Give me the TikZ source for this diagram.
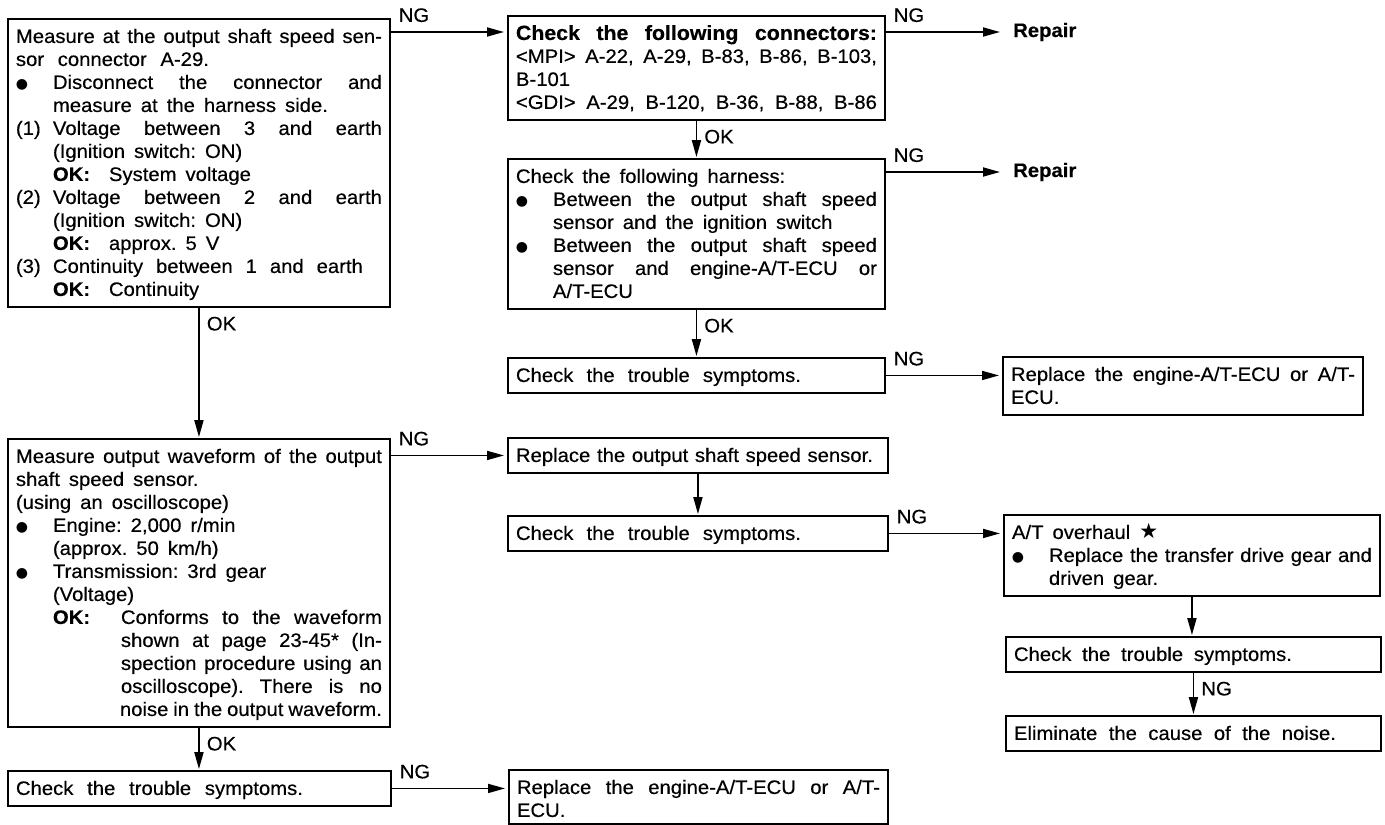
\documentclass[tikz,border=0pt]{standalone}
\usepackage{fontspec}
\setmainfont{Liberation Sans}[FakeStretch=1.04,FakeBold=0.4]
\newfontfamily\djv{DejaVu Sans}
\usetikzlibrary{arrows.meta,calc}
\newcommand\fs{\fontsize{19.5}{23}\selectfont\frenchspacing}
\newcommand\sps{\spaceskip=9pt plus 6pt minus 5pt\xspaceskip=9pt plus 6pt minus 5pt\relax}
\newcommand\J[2][0pt]{\hspace*{#1}\makebox[\dimexpr\hsize-#1\relax][s]{\sps #2}}
\newcommand\Jw[3][0pt]{\hspace*{#1}\makebox[#2][s]{\sps #3}}
\newcommand\R[2][0pt]{\hspace*{#1}{\sps #2}}
\newcommand\bu{\makebox[37pt][l]{{\djv\fontsize{14}{23}\selectfont ●}}}
\newcommand\nb[1]{\makebox[37pt][l]{#1}}
\newcommand\okk{\makebox[56pt][l]{\textbf{OK:}}}
\begin{document}
\begin{tikzpicture}[x=1pt,y=-1pt,
  bx/.style={draw, line width=1.9pt, anchor=north west, inner xsep=8pt, inner ysep=0pt, text height=24pt, align=left, font=\fs},
  arr/.style={line width=1.8pt, -{Triangle[length=17pt,width=9pt]}},
  harr/.style={arr, shorten >=3pt},
  varr/.style={arr, shorten >=0.9pt},
  nglab/.style={pos=0, anchor=south west, xshift=7pt, yshift=9pt, inner sep=0pt, font=\fs},
  oklab/.style={pos=0, anchor=north west, xshift=7pt, yshift=-8pt, inner sep=0pt, font=\fs},
  rep/.style={anchor=base west, inner xsep=10pt, inner ysep=0pt, font=\fs\bfseries}]
\fill[white] (0,0) rectangle (1385,825);
\useasboundingbox (0,0) rectangle (1385,825);

% left column
\node[bx, text width=366pt, text depth=264pt] (A) at (7,18) {%
\J{Measure at the output shaft speed sen-}\\
\Jw{193pt}{sor connector A-29.}\\
\J{\bu Disconnect the connector and}\\
\R[37pt]{measure at the harness side.}\\
\J{\nb{(1)}Voltage between 3 and earth}\\
\R[37pt]{(Ignition switch: ON)}\\
\R[37pt]{\okk System voltage}\\
\J{\nb{(2)}Voltage between 2 and earth}\\
\R[37pt]{(Ignition switch: ON)}\\
\R[37pt]{\okk approx. 5 V}\\
\Jw{347pt}{\nb{(3)}Continuity between 1 and earth}\\
\R[37pt]{\okk Continuity}};

\node[bx, text width=366pt, text depth=264pt] (F) at (7,438) {%
\J{Measure output waveform of the output}\\
\R{shaft speed sensor.}\\
\R{(using an oscilloscope)}\\
\R{\bu Engine: 2,000 r/min}\\
\R[37pt]{(approx. 50 km/h)}\\
\R{\bu Transmission: 3rd gear}\\
\R[37pt]{(Voltage)}\\
\J[37pt]{\makebox[68pt][l]{\textbf{OK:}}Conforms to the waveform}\\
\J[105pt]{shown at page 23-45* (In-}\\
\J[105pt]{spection procedure using an}\\
\J[105pt]{oscilloscope). There is no}\\
\J[104pt]{noise in the output waveform.}};

\node[bx, text width=367pt, text depth=11pt] (L) at (7,770) {\Jw{287pt}{Check the trouble symptoms.}};

% middle column
\node[bx, text width=361pt, text depth=80pt] (B) at (507,15) {%
\J{\fontsize{20.5}{23}\selectfont\textbf{Check the following connectors:}}\\
\J{<MPI> A-22, A-29, B-83, B-86, B-103,}\\
\R{B-101}\\
\J{<GDI> A-29, B-120, B-36, B-88, B-86}};

\node[bx, text width=361pt, text depth=126pt] (C) at (507,158) {%
\R{Check the following harness:}\\
\J{\bu Between the output shaft speed}\\
\R[37pt]{sensor and the ignition switch}\\
\J{\bu Between the output shaft speed}\\
\J[37pt]{sensor and engine-A/T-ECU or}\\
\R[37pt]{A/T-ECU}};

\node[bx, text width=361pt, text depth=11pt] (D) at (507,357) {\Jw{285pt}{Check the trouble symptoms.}};

\node[bx, text width=364pt, text depth=11pt] (G) at (507,437) {\Jw{357pt}{Replace the output shaft speed sensor.}};
\node[bx, text width=364pt, text depth=11pt] (H) at (507,515) {\Jw{285pt}{Check the trouble symptoms.}};

\node[bx, text width=363pt, text depth=30pt] (M) at (508,769) {%
\J{Replace the engine-A/T-ECU or A/T-}\\
\R{ECU.}};

% right column
\node[rep] (R1) at (1003,37) {Repair};
\node[rep] (R2) at (1003,177) {Repair};

\node[bx, text width=344pt, text depth=34pt] (E) at (1002,356) {%
\J{Replace the engine-A/T-ECU or A/T-}\\
\R{ECU.}};

\node[bx, text width=360pt, text depth=57pt] (I) at (1003,514) {%
\R{A/T overhaul {\djv\fontsize{21}{23}\selectfont ★}}\\
\J{\bu Replace the transfer drive gear and}\\
\R[37pt]{driven gear.}};

\node[bx, text width=359pt, text depth=11pt] (Jb) at (1005,636) {\Jw{278pt}{Check the trouble symptoms.}};
\node[bx, text width=359pt, text depth=11pt] (K) at (1005,715) {\Jw{322pt}{Eliminate the cause of the noise.}};

% connectors
\coordinate (ab) at ([yshift=-17pt]B.north west);
\coordinate (cr) at ([yshift=-14pt]C.north east);
\draw[harr] (ab -| A.east) -- node[nglab]{NG} (ab);
\draw[harr] (ab -| B.east) -- node[nglab]{NG} (ab -| R1.west);
\draw[harr] (cr) -- node[nglab]{NG} (cr -| R2.west);
\draw[harr] (D.east) -- node[nglab]{NG} (D.east -| E.west);
\draw[harr] (G.west -| F.east) -- node[nglab]{NG} (G.west);
\draw[harr] (H.east) -- node[nglab]{NG} (H.east -| I.west);
\draw[harr] (L.east) -- node[nglab]{NG} (L.east -| M.west);

\draw[varr] (A.south) -- node[oklab]{OK} (F.north);
\draw[varr] (B.south) -- node[oklab]{OK} (B.south |- C.north);
\draw[varr] (C.south) -- node[oklab]{OK} (C.south |- D.north);
\draw[varr] (F.south) -- node[oklab]{OK} (F.south |- L.north);
\draw[varr] (G.south) -- (G.south |- H.north);
\draw[varr] (I.south) -- (I.south |- Jb.north);
\draw[varr] (Jb.south) -- node[oklab]{NG} (Jb.south |- K.north);
\end{tikzpicture}
\end{document}
